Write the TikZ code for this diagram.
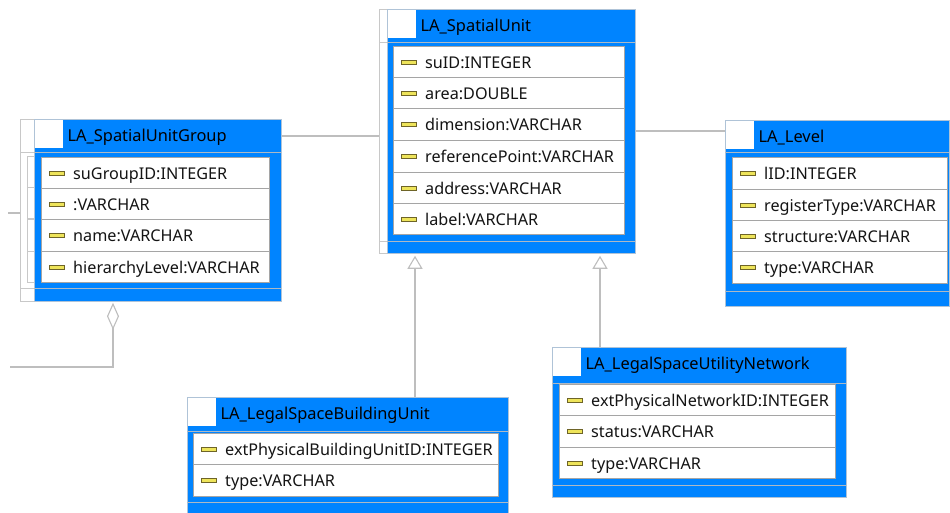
\documentclass[tikz,border=0pt]{standalone}
\usepackage{fontspec}
\setmainfont{Noto Sans}
\usetikzlibrary{arrows.meta}
\definecolor{umlblue}{RGB}{0,132,255}
\definecolor{boxborder}{RGB}{175,195,215}
\definecolor{rowgray}{RGB}{165,165,165}
\definecolor{framegray}{RGB}{200,200,200}
\definecolor{conngray}{RGB}{190,190,190}
\definecolor{sepgray}{RGB}{175,185,195}
\definecolor{dashfill}{RGB}{238,228,90}
\definecolor{dashdraw}{RGB}{110,100,40}
\definecolor{txt}{RGB}{20,20,20}
\tikzset{
  classbox/.style={draw=boxborder, fill=umlblue, line width=0.8pt, inner sep=0pt},
  framebox/.style={draw=framegray, line width=1pt, inner sep=0pt},
  iconbox/.style={fill=white, draw=none, minimum width=28pt, minimum height=28pt, inner sep=0pt},
  titletext/.style={anchor=west, inner sep=0pt, text=black, font=\fontsize{16.4}{19}\selectfont, text height=12pt, text depth=3.5pt},
  rowbox/.style={fill=white, draw=rowgray, line width=1pt, inner sep=0pt},
  dashicon/.style={fill=dashfill, draw=dashdraw, line width=0.5pt, minimum width=15pt, minimum height=4pt, inner sep=0pt},
  attrtext/.style={anchor=west, inner sep=0pt, text=txt, font=\fontsize{16.2}{19}\selectfont, text height=12pt, text depth=3.5pt},
  sepline/.style={draw=sepgray, line width=1pt},
  frameline/.style={draw=framegray, line width=1pt},
  conn/.style={draw=conngray, line width=1.1pt},
  gen/.style={conn, -{Triangle[open, length=13pt, width=15pt, fill=white]}},
  agg/.style={conn, -{Diamond[open, length=27pt, width=12pt, fill=white]}},
}
\newcommand{\attrrow}[6]{%
  \node[rowbox, anchor=north west, minimum width={#3-#2}, minimum height={#5-#4}] (#1) at (#2,#4) {};
  \node[dashicon] (#1-i) at ([xshift=15.5pt]#1.west) {};
  \node[attrtext] (#1-t) at ([xshift=32pt,yshift=-1.8pt]#1.west) {#6};
}
\newcommand{\umlclass}[8]{%
  \node[classbox, anchor=north west, minimum width={#4-#2}, minimum height={#5-#3}] (#1) at (#2,#3) {};
  \node[iconbox, anchor=north west] (#1-icon) at ([shift={(1pt,-1pt)}]#1.north west) {};
  \node[titletext] (#1-title) at ([xshift=4pt,yshift=-2.8pt]#1-icon.east) {#8};
  \draw[sepline] (#2,#6) -- (#4,#6);
  \draw[sepline] (#2,#7) -- (#4,#7);
}
\begin{document}
\begin{tikzpicture}[x=1pt,y=-1pt]
\useasboundingbox (0,0) rectangle (950,513);
\fill[white] (0,0) rectangle (950,513);

% ---------- LA_SpatialUnit ----------
\node[framebox, anchor=north west, minimum width=256pt, minimum height=244pt] (su-frame) at (379,9) {};
\draw[frameline] (379,43) -- (387,43);
\draw[frameline] (379,241) -- (387,241);
\umlclass{su}{387}{9}{635}{253}{43}{241}{LA\_SpatialUnit}
\attrrow{su-a1}{393}{624}{46}{77}{suID:INTEGER}
\attrrow{su-a2}{393}{624}{77}{108}{area:DOUBLE}
\attrrow{su-a3}{393}{624}{108}{140}{dimension:VARCHAR}
\attrrow{su-a4}{393}{624}{140}{172}{referencePoint:VARCHAR}
\attrrow{su-a5}{393}{624}{172}{203}{address:VARCHAR}
\attrrow{su-a6}{393}{624}{203}{234}{label:VARCHAR}

% ---------- LA_SpatialUnitGroup ----------
\node[framebox, anchor=north west, minimum width=261pt, minimum height=182pt] (sug-frame) at (20,119) {};
\draw[frameline] (20,153) -- (34,153);
\draw[frameline] (20,288) -- (34,288);
\draw[frameline] (34,157) -- (27,157) -- (27,282) -- (34,282);
\draw[frameline] (27,188) -- (34,188);
\draw[frameline] (27,219) -- (34,219);
\draw[frameline] (27,251) -- (34,251);
\umlclass{sug}{34}{119}{281}{301}{153}{288}{LA\_SpatialUnitGroup}
\attrrow{sug-a1}{41}{269}{157}{188}{suGroupID:INTEGER}
\attrrow{sug-a2}{41}{269}{188}{219}{:VARCHAR}
\attrrow{sug-a3}{41}{269}{219}{251}{name:VARCHAR}
\attrrow{sug-a4}{41}{269}{251}{282}{hierarchyLevel:VARCHAR}

% ---------- LA_Level ----------
\umlclass{lvl}{725}{120}{949}{306}{153}{291}{LA\_Level}
\attrrow{lvl-a1}{732}{947}{157}{189}{lID:INTEGER}
\attrrow{lvl-a2}{732}{947}{189}{220}{registerType:VARCHAR}
\attrrow{lvl-a3}{732}{947}{220}{251}{structure:VARCHAR}
\attrrow{lvl-a4}{732}{947}{251}{283}{type:VARCHAR}

% ---------- LA_LegalSpaceBuildingUnit ----------
\umlclass{bu}{187}{397}{508}{520}{431}{502}{LA\_LegalSpaceBuildingUnit}
\attrrow{bu-a1}{193}{498}{433}{464}{extPhysicalBuildingUnitID:INTEGER}
\attrrow{bu-a2}{193}{498}{464}{496}{type:VARCHAR}

% ---------- LA_LegalSpaceUtilityNetwork ----------
\umlclass{un}{552}{347}{846}{497}{383}{485}{LA\_LegalSpaceUtilityNetwork}
\attrrow{un-a1}{559}{835}{384}{415}{extPhysicalNetworkID:INTEGER}
\attrrow{un-a2}{559}{835}{415}{447}{status:VARCHAR}
\attrrow{un-a3}{559}{835}{447}{478}{type:VARCHAR}

% ---------- connectors ----------
\draw[conn] (sug.east |- 0,136) -- (su-frame.west |- 0,136);
\draw[conn] (su.east |- 0,131) -- (lvl.west |- 0,131);
\draw[gen] (bu.north -| 415,0) -- ([yshift=-2pt]su.south -| 415,0);
\draw[gen] (un.north -| 600,0) -- ([yshift=-2pt]su.south -| 600,0);
\coordinate (aggend) at (10,367);
\coordinate (stubend) at (8,213);
\draw[agg] (aggend) -- (113,367) -- ([yshift=-1pt]sug.south -| 113,0);
\draw[conn] (stubend) -- (sug-frame.west |- stubend);
\end{tikzpicture}
\end{document}
